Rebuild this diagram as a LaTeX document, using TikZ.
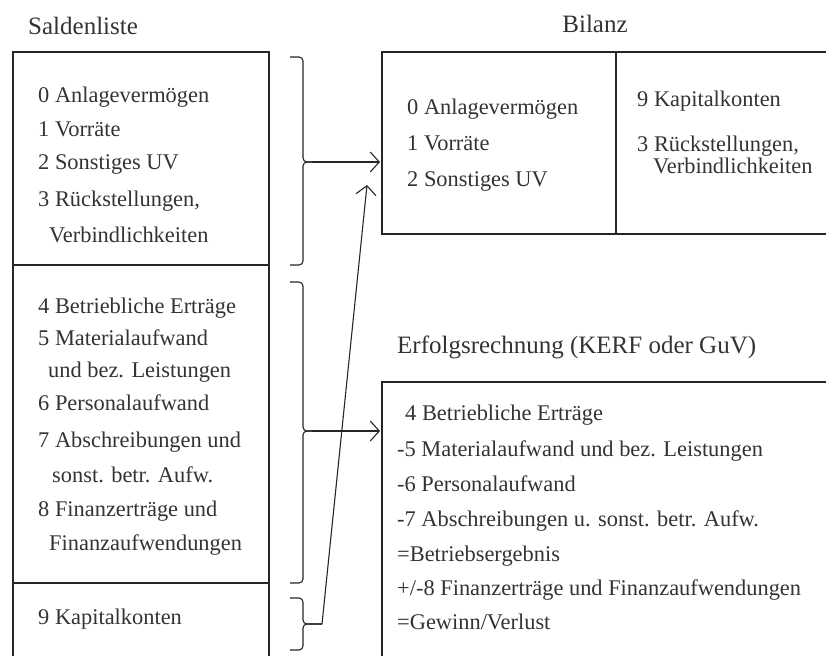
\documentclass[tikz,border=0pt]{standalone}
\usepackage{fontspec}
\setmainfont{Liberation Serif}
\usetikzlibrary{arrows.meta,positioning,calc}

\begin{document}
\begin{tikzpicture}[x=1pt,y=-1pt,
    box/.style={line width=2.8pt,draw=black!85},
    txt/.style={anchor=base west,inner sep=0pt,text=black!80,font=\fontsize{22.4}{26}\selectfont},
    titel/.style={txt,font=\fontsize{25}{29}\selectfont},
    klammer/.style={line width=1.1pt,draw=black!85,rounded corners=4pt},
    pfeil/.style={line width=1.1pt,draw=black!85,-{Straight Barb[length=9pt,width=20pt,line width=1.1pt]}}]
    \useasboundingbox (0,0) rectangle (826,655);
    \clip (0,0) rectangle (826,655);

    % Saldenliste
    \node[titel] (tsalden) at (28,35) {Saldenliste};
    \draw[box] (13,670) -- (13,52) -- (269,52) -- (269,670);
    \draw[box] (13,265) -- (269,265);
    \draw[box] (13,583) -- (269,583);
    \foreach \y/\x/\t in {103/38/{0 Anlagevermögen},137/38/{1 Vorräte},170/38/{2 Sonstiges UV},
                          206/38/{3 Rückstellungen,},242/49/{Verbindlichkeiten},
                          313/38/{4 Betriebliche Erträge},345/38/{5 Materialaufwand},
                          377/48/{und bez. Leistungen},410/38/{6 Personalaufwand},
                          447/38/{7 Abschreibungen und},482/52/{sonst. betr. Aufw.},
                          516/38/{8 Finanzerträge und},550/49/{Finanzaufwendungen},
                          624/38/{9 Kapitalkonten}} {
        \node[txt] (s\y) at (\x,\y) {\t};
    }

    % Bilanz
    \node[titel,anchor=base] (tbilanz) at (595,33) {Bilanz};
    \draw[box] (840,52) -- (382,52) -- (382,234) -- (840,234);
    \draw[box] (616,52) -- (616,234);
    \foreach \y/\t in {115/{0 Anlagevermögen},151/{1 Vorräte},186/{2 Sonstiges UV}} {
        \node[txt] (ba\y) at (407,\y) {\t};
    }
    \node[txt] (bp1) at (637,107) {9 Kapitalkonten};
    \node[txt] (bp2) at (637,152) {3 Rückstellungen,};
    \node[txt] (bp3) at (653,173) {Verbindlichkeiten};

    % Erfolgsrechnung
    \node[titel] (terfolg) at (397,353) {Erfolgsrechnung (KERF oder GuV)};
    \draw[box] (840,382) -- (382,382) -- (382,670);
    \foreach \y/\x/\t in {420/405/{4 Betriebliche Erträge},456/397/{-5 Materialaufwand und bez. Leistungen},
                          491/397/{-6 Personalaufwand},526/397/{-7 Abschreibungen u. sonst. betr. Aufw.},
                          561/397/{=Betriebsergebnis},595/397/{+/-8 Finanzerträge und Finanzaufwendungen},
                          629/397/{=Gewinn/Verlust}} {
        \node[txt] (e\y) at (\x,\y) {\t};
    }

    % Klammern und Pfeile
    \coordinate (k1) at (312,162);
    \coordinate (k2) at (312,431);
    \coordinate (k3) at (322,624);
    \coordinate (z1) at (380,162);
    \coordinate (z2) at (380,431);
    \coordinate (z3) at (367,185);
    \draw[klammer] (290,57) -| (303,162) -- (k1);
    \draw[klammer] (290,265) -| (303,162) -- (k1);
    \draw[klammer] (290,282) -| (303,431) -- (k2);
    \draw[klammer] (290,583) -| (303,431) -- (k2);
    \draw[klammer] (290,598) -| (303,624) -- (k3);
    \draw[klammer] (290,650) -| (303,624) -- (k3);
    \draw[pfeil] (k1) -- (z1);
    \draw[pfeil] (k2) -- (z2);
    \draw[pfeil] (k3) -- (z3);
\end{tikzpicture}
\end{document}
